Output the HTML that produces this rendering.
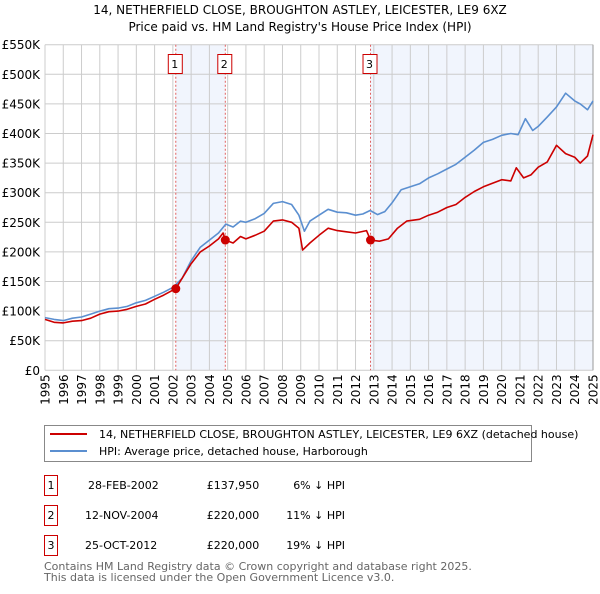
<!DOCTYPE html>
<html><head><meta charset="utf-8"><style>
body{margin:0;background:#fff;font-family:"DejaVu Sans","Liberation Sans",sans-serif;}
svg text{font-family:"DejaVu Sans","Liberation Sans",sans-serif;}
</style></head><body>
<svg id="chart" width="600" height="590" viewBox="0 0 600 590">
<text x="300" y="14" text-anchor="middle" font-size="12" fill="#000">14, NETHERFIELD CLOSE, BROUGHTON ASTLEY, LEICESTER, LE9 6XZ</text>
<text x="300" y="31" text-anchor="middle" font-size="12" fill="#000">Price paid vs. HM Land Registry's House Price Index (HPI)</text>
<g id="plot"></g>
<g>
<rect x="44.5" y="425.5" width="487" height="36" fill="#fff" stroke="#888"/>
<line x1="50" y1="434" x2="87" y2="434" stroke="#cc0000" stroke-width="2"/>
<text x="99" y="438" font-size="11">14, NETHERFIELD CLOSE, BROUGHTON ASTLEY, LEICESTER, LE9 6XZ (detached house)</text>
<line x1="50" y1="451" x2="87" y2="451" stroke="#5b8fd0" stroke-width="2"/>
<text x="99" y="455" font-size="11">HPI: Average price, detached house, Harborough</text>
</g>
<g font-size="11">
<g><rect x="44.5" y="475.5" width="13" height="20" fill="#fff" stroke="#cc0000"/><text x="51" y="489" text-anchor="middle">1</text><text x="88" y="489">28-FEB-2002</text><text x="247" y="489" text-anchor="middle" dx="-14">£137,950</text><text x="345" y="489" text-anchor="end">6% ↓ HPI</text></g>
<g><rect x="44.5" y="505.5" width="13" height="20" fill="#fff" stroke="#cc0000"/><text x="51" y="519" text-anchor="middle">2</text><text x="85" y="519">12-NOV-2004</text><text x="233" y="519" text-anchor="middle">£220,000</text><text x="345" y="519" text-anchor="end">11% ↓ HPI</text></g>
<g><rect x="44.5" y="535.5" width="13" height="20" fill="#fff" stroke="#cc0000"/><text x="51" y="549" text-anchor="middle">3</text><text x="85" y="549">25-OCT-2012</text><text x="233" y="549" text-anchor="middle">£220,000</text><text x="345" y="549" text-anchor="end">19% ↓ HPI</text></g>
</g>
<text x="44" y="570" font-size="11" fill="#666">Contains HM Land Registry data © Crown copyright and database right 2025.</text>
<text x="44" y="581" font-size="11" fill="#666">This data is licensed under the Open Government Licence v3.0.</text>
</svg>
<script>
const yTicks=[0,50,100,150,200,250,300,350,400,450,500,550];
const yTickLabels=["£0","£50K","£100K","£150K","£200K","£250K","£300K","£350K","£400K","£450K","£500K","£550K"];
const xYears=[1995,1996,1997,1998,1999,2000,2001,2002,2003,2004,2005,2006,2007,2008,2009,2010,2011,2012,2013,2014,2015,2016,2017,2018,2019,2020,2021,2022,2023,2024,2025];
const hpiT=[1995,1995.5,1996,1996.5,1997,1997.5,1998,1998.5,1999,1999.5,2000,2000.5,2001,2001.5,2002,2002.5,2003,2003.5,2004,2004.5,2004.9,2005.3,2005.7,2006,2006.5,2007,2007.5,2008,2008.5,2008.9,2009.2,2009.5,2010,2010.5,2011,2011.5,2012,2012.4,2012.8,2013.2,2013.6,2014,2014.5,2015,2015.5,2016,2016.5,2017,2017.5,2018,2018.5,2019,2019.5,2020,2020.5,2020.9,2021.3,2021.7,2022,2022.5,2023,2023.5,2024,2024.3,2024.7,2025];
const hpiV=[89,86,84,88,90,95,100,104,105,108,114,118,125,132,140,155,185,208,220,232,247,242,252,250,256,265,282,285,280,262,235,252,262,272,267,266,262,264,270,263,268,283,305,310,315,325,332,340,348,360,372,385,390,397,400,398,425,405,412,428,445,468,455,450,440,455,493];
const ppT=[1995,1995.5,1996,1996.5,1997,1997.5,1998,1998.5,1999,1999.5,2000,2000.5,2001,2001.5,2002.16,2002.5,2003,2003.5,2004,2004.5,2004.75,2004.87,2005.3,2005.7,2006,2006.5,2007,2007.5,2008,2008.5,2008.9,2009.1,2009.5,2010,2010.5,2011,2011.5,2012,2012.6,2012.82,2013.3,2013.8,2014.3,2014.8,2015.5,2016,2016.5,2017,2017.5,2018,2018.5,2019,2019.5,2020,2020.5,2020.8,2021.2,2021.6,2022,2022.5,2023,2023.5,2024,2024.3,2024.7,2025];
const ppV=[86,81,80,83,84,88,95,99,100,103,108,112,120,127,138,155,180,200,210,222,232,220,215,226,222,228,235,252,254,250,240,203,215,228,240,236,234,232,236,220,218,222,240,252,255,262,267,275,280,292,302,310,316,322,320,342,325,330,343,352,380,366,360,350,362,398];
const saleT=[2002.16,2004.87,2012.82];
const saleV=[137.95,220,220];
const saleLabels=["1","2","3"];

const X0=45,X1=593,Y0=370.3,Y1=44.7;
const xs=t=>X0+(t-1995)/30*(X1-X0);
const ys=v=>Y0-v/550*(Y0-Y1);
const NS="http://www.w3.org/2000/svg";
const g=document.getElementById('plot');
function mk(tag,attrs){const e=document.createElementNS(NS,tag);for(const k in attrs)e.setAttribute(k,attrs[k]);g.appendChild(e);return e;}

let bg=mk('rect',{x:X0,y:Y1,width:X1-X0,height:Y0-Y1,fill:'#fff'});


let s1=mk('rect',{x:xs(saleT[0]),y:Y1,width:xs(saleT[1])-xs(saleT[0]),height:Y0-Y1,fill:'#eef3fc',opacity:0.8});


let s2=mk('rect',{x:xs(saleT[2]),y:Y1,width:X1-xs(saleT[2]),height:Y0-Y1,fill:'#eef3fc',opacity:0.8});



yTicks.forEach((v,i)=>{
  const y=ys(v);
  let l=mk('line',{x1:X0,x2:X1,y1:y,y2:y,stroke:'#cccccc','stroke-width':1});
  
  
  let t=mk('text',{x:X0-5,y:y+4.5,'text-anchor':'end','font-size':12,fill:'#000'});
  t.textContent=yTickLabels[i];
  
  
});
xYears.forEach(yr=>{
  const x=xs(yr);
  let l=mk('line',{x1:x,x2:x,y1:Y1,y2:Y0,stroke:'#cccccc','stroke-width':1});
  
  
  let t=mk('text',{x:0,y:0,'text-anchor':'end','font-size':12,fill:'#000',transform:`translate(${x+4.5},${Y0+4}) rotate(-90)`});
  t.textContent=String(yr);
  
  
});
let ax=mk('line',{x1:X1,x2:X1,y1:Y1,y2:Y0,stroke:'#999','stroke-width':1});



saleT.forEach((t,i)=>{
  const x=xs(t);
  let l=mk('line',{x1:x,x2:x,y1:Y1,y2:Y0,stroke:'#e06060','stroke-width':1,'stroke-dasharray':'2,2'});
  
  
});

function path(T,V,color,name){
  let d=T.map((t,i)=>(i?'L':'M')+xs(t).toFixed(1)+','+ys(V[i]).toFixed(1)).join('');
  let p=mk('path',{d:d,fill:'none',stroke:color,'stroke-width':1.6,'stroke-linejoin':'round'});
  
  
}
path(hpiT,hpiV,'#5b8fd0','hpi-line');
path(ppT,ppV,'#cc0000','property-price-line');

saleT.forEach((t,i)=>{
  let c=mk('circle',{cx:xs(t),cy:ys(saleV[i]),r:4.5,fill:'#cc0000'});
  
  
  const x=xs(t);
  let b=mk('rect',{x:x-7.5,y:54.5,width:14,height:19,fill:'#fff',stroke:'#cc0000'});
  
  
  let tx=mk('text',{x:x-1,y:68,'text-anchor':'middle','font-size':11,fill:'#000'});
  tx.textContent=saleLabels[i];
  
  
});
</script>
</body></html>
